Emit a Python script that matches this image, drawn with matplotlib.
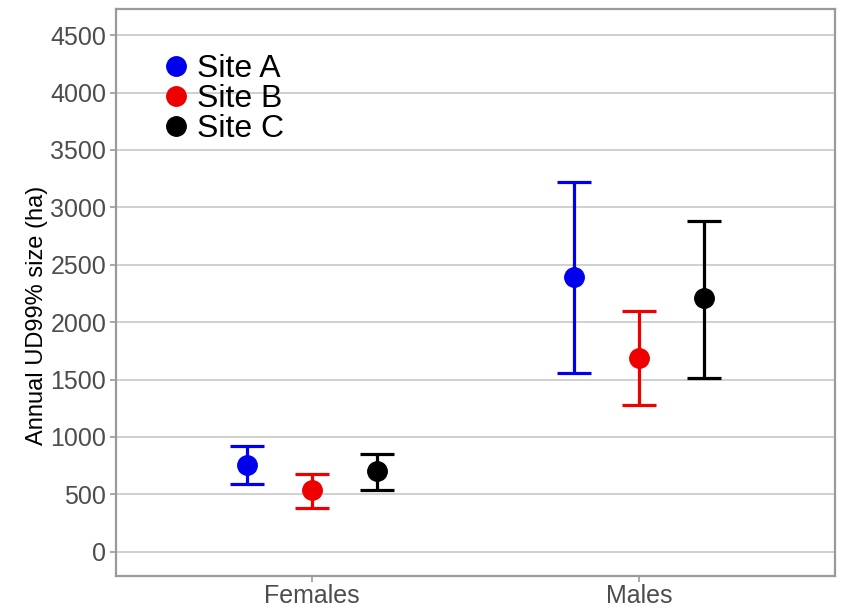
import matplotlib
matplotlib.use("Agg")
import matplotlib.pyplot as plt
from matplotlib.lines import Line2D
import numpy as np

plt.rcParams['font.family'] = ['Liberation Sans', 'DejaVu Sans']

groups = ["Females", "Males"]
sites = ["Site A", "Site B", "Site C"]
colors = ["#0000EE", "#EE0000", "#000000"]
means = {"Site A": [759, 2391], "Site B": [542, 1687], "Site C": [701, 2209]}
upper = {"Site A": [924, 3223], "Site B": [681, 2098], "Site C": [852, 2881]}
lower = {"Site A": [591, 1557], "Site B": [383, 1280], "Site C": [542, 1518]}
yticks = [0, 500, 1000, 1500, 2000, 2500, 3000, 3500, 4000, 4500]

fig = plt.figure(figsize=(8.42, 6.08), dpi=100)
ax = fig.add_axes([116/842, 32/608, 719/842, 567/608])

xbase = np.arange(1, len(groups) + 1)
offsets = [-0.2, 0.0, 0.2]
for s, c, off in zip(sites, colors, offsets):
    m = np.array(means[s]); u = np.array(upper[s]); l = np.array(lower[s])
    ax.errorbar(xbase + off, m, yerr=[m - l, u - m], fmt='none', ecolor=c,
                elinewidth=2.3, capsize=12, capthick=2.3, zorder=3)
    ax.plot(xbase + off, m, 'o', color=c, markersize=14, zorder=4)

ax.set_xlim(0.4, 2.6)
ax.set_ylim(-211, 4728)
ax.set_xticks(xbase)
ax.set_xticklabels(groups)
ax.set_yticks(yticks)
ax.set_yticklabels([str(v) for v in yticks])
ax.yaxis.grid(True, color="#c8c8c8", linewidth=1.2)
ax.set_axisbelow(True)
for sp in ax.spines.values():
    sp.set_color("#9a9a9a")
    sp.set_linewidth(1.6)
ax.tick_params(axis='both', colors="#9a9a9a", labelcolor="#4d4d4d",
               labelsize=18, length=4, width=1.2, pad=3)
ax.tick_params(axis='x', pad=1.5)
ax.set_ylabel("Annual UD99% size (ha)", fontsize=17, color="black")
ax.yaxis.set_label_coords(-0.095, 0.459)

handles = [Line2D([0], [0], marker='o', linestyle='none', color=c, markersize=14)
           for c in colors]
leg = ax.legend(handles, sites, loc='upper left', bbox_to_anchor=(0.066, 0.92),
                frameon=False, fontsize=23, handlelength=0.8, handletextpad=0.25,
                labelspacing=0.0, borderpad=0, borderaxespad=0)

fig.savefig("out.png", dpi=100)
